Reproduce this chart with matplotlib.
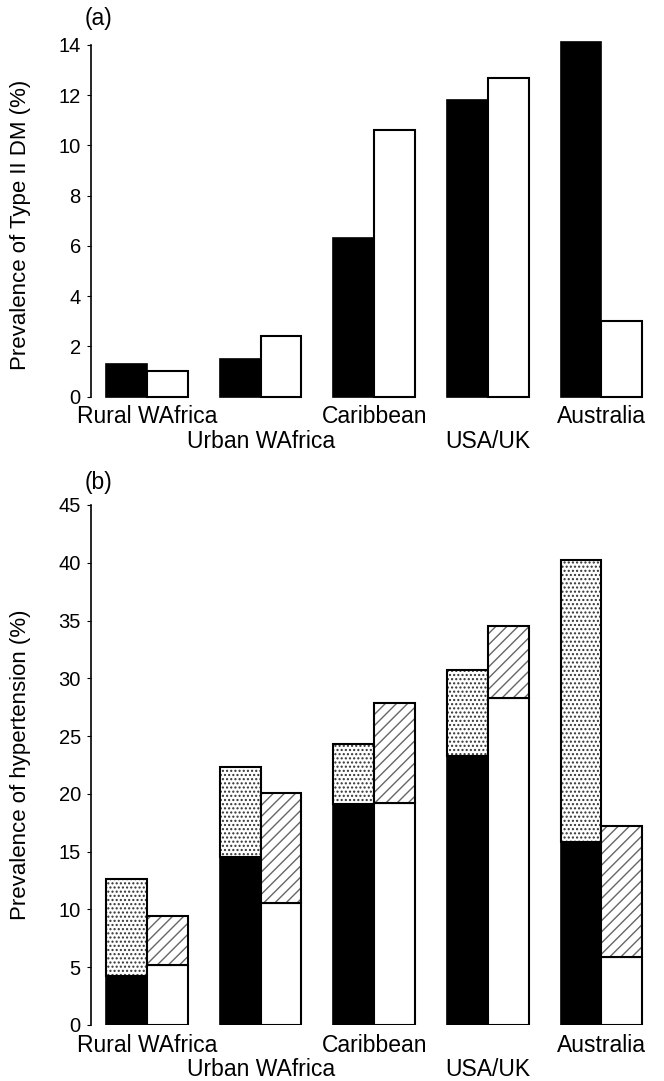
import matplotlib
matplotlib.use("Agg")
import matplotlib.pyplot as plt
import numpy as np

plt.rcParams['font.family'] = ['Liberation Sans', 'DejaVu Sans']
plt.rcParams['font.size'] = 14.5

# regions, in order along the x axis
regions = ['Rural WAfrica', 'Urban WAfrica', 'Caribbean', 'USA/UK', 'Australia']

# (a) prevalence of Type II DM (%), two series per region
dm_black = [1.3, 1.5, 6.3, 11.8, 14.1]
dm_white = [1.0, 2.4, 10.6, 12.7, 3.0]

# (b) prevalence of hypertension (%), lower segment and bar total
ht_black = [4.2, 14.5, 19.1, 23.3, 15.8]
ht_black_total = [12.6, 22.3, 24.3, 30.7, 40.2]
ht_white = [5.2, 10.6, 19.2, 28.3, 5.9]
ht_white_total = [9.4, 20.1, 27.9, 34.5, 17.2]

W, H = 664, 1081
fig = plt.figure(figsize=(W / 100, H / 100), dpi=100)

left_px, right_px = 90.5, 655
ax_a = fig.add_axes([left_px / W, (H - 396.5) / H, (right_px - left_px) / W, 351.5 / H])
ax_b = fig.add_axes([left_px / W, (H - 1025) / H, (right_px - left_px) / W, 520 / H])

x = np.arange(len(regions))
bw = 0.36
unit = 113.6
xmin = (left_px - 147) / unit
xmax = xmin + (right_px - left_px) / unit


def style_axis(ax, ymax, step):
    ax.set_xlim(xmin, xmax)
    ax.set_ylim(0, ymax)
    ax.set_yticks(np.arange(0, ymax + 0.1, step))
    for s in ['top', 'right', 'bottom']:
        ax.spines[s].set_visible(False)
    ax.spines['left'].set_linewidth(1.2)
    ax.tick_params(axis='y', direction='out', length=3, width=0.8, pad=4)
    ax.set_xticks([])
    for i, name in enumerate(regions):
        off = -20 if i % 2 == 0 else -45
        ax.annotate(name, xy=(x[i], 0), xycoords=('data', 'axes fraction'),
                    xytext=(0, off), textcoords='offset pixels',
                    ha='center', va='center', fontsize=16.5)


# panel (a)
ax_a.bar(x - bw / 2, dm_black, bw, color='black', edgecolor='black', linewidth=1.2, clip_on=False)
ax_a.bar(x + bw / 2, dm_white, bw, color='white', edgecolor='black', linewidth=1.5, clip_on=False)
style_axis(ax_a, 14, 2)
fig.text(21 / W, 1 - 225 / H, 'Prevalence of Type II DM (%)', rotation=90,
         ha='center', va='center', fontsize=16)
fig.text(99 / W, 1 - 19 / H, '(a)', ha='center', va='center', fontsize=16.5)

# panel (b)
top_black = np.array(ht_black_total) - np.array(ht_black)
top_white = np.array(ht_white_total) - np.array(ht_white)
ax_b.bar(x - bw / 2, ht_black, bw, color='black', edgecolor='black', linewidth=1.2)
ax_b.bar(x - bw / 2, top_black, bw, bottom=ht_black, color='white',
         edgecolor='0.2', hatch='....', linewidth=0)
ax_b.bar(x - bw / 2, top_black, bw, bottom=ht_black, fill=False,
         edgecolor='black', linewidth=1.5)
ax_b.bar(x + bw / 2, ht_white, bw, color='white', edgecolor='black', linewidth=1.5)
ax_b.bar(x + bw / 2, top_white, bw, bottom=ht_white, color='white',
         edgecolor='0.4', hatch='///', linewidth=0)
ax_b.bar(x + bw / 2, top_white, bw, bottom=ht_white, fill=False,
         edgecolor='black', linewidth=1.5)
style_axis(ax_b, 45, 5)
fig.text(21 / W, 1 - 765 / H, 'Prevalence of hypertension (%)', rotation=90,
         ha='center', va='center', fontsize=16)
fig.text(99 / W, 1 - 483 / H, '(b)', ha='center', va='center', fontsize=16.5)

fig.savefig('out.png', dpi=100)
